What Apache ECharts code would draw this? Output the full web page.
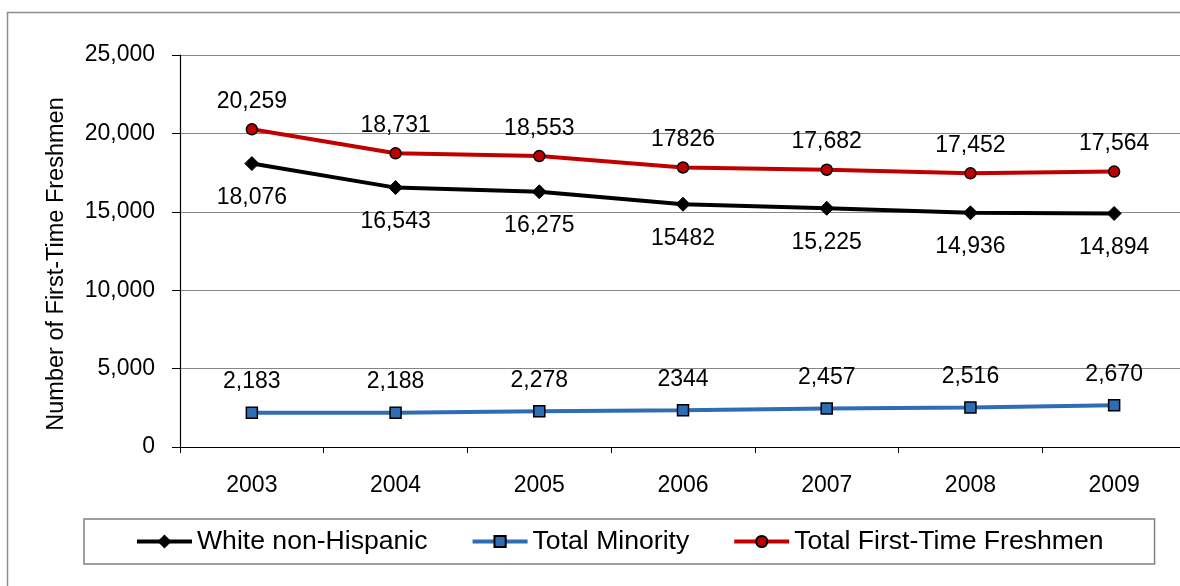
<!DOCTYPE html>
<html>
<head>
<meta charset="utf-8">
<script src="https://cdn.jsdelivr.net/npm/echarts@6/dist/echarts.min.js"></script>
<style>
html,body{margin:0;padding:0;background:#fff;overflow:hidden;width:1180px;height:586px;}
#c{width:1200px;height:586px;}
</style>
</head>
<body>
<div id="c"></div>
<script>
var years = ['2003','2004','2005','2006','2007','2008','2009'];
var whiteNonHispanic = [18076, 16543, 16275, 15482, 15225, 14936, 14894];
var totalMinority = [2183, 2188, 2278, 2344, 2457, 2516, 2670];
var totalFreshmen = [20259, 18731, 18553, 17826, 17682, 17452, 17564];
var whiteLabels = ['18,076','16,543','16,275','15482','15,225','14,936','14,894'];
var minorityLabels = ['2,183','2,188','2,278','2344','2,457','2,516','2,670'];
var freshmenLabels = ['20,259','18,731','18,553','17826','17,682','17,452','17,564'];
var yTicks = [0, 5000, 10000, 15000, 20000, 25000];
var yTitle = 'Number of First-Time Freshmen';

var FONT = '"Liberation Sans", Arial, sans-serif';
function fmt(v){ return String(v).replace(/\B(?=(\d{3})+(?!\d))/g, ','); }

var chart = echarts.init(document.getElementById('c'), null, {renderer:'canvas'});
chart.setOption({
  animation: false,
  backgroundColor: '#fff',
  textStyle: {fontFamily: FONT, color: '#000'},
  grid: {left: 180, top: 55, width: 1006, height: 392, containLabel: false},
  xAxis: {
    type: 'category',
    data: years,
    boundaryGap: true,
    axisLine: {show: true, lineStyle: {color: '#000', width: 1.2}},
    axisTick: {show: true, inside: false, length: 6, alignWithLabel: false, lineStyle: {color: '#000'}},
    axisLabel: {fontSize: 23, color: '#000', margin: 27, fontFamily: FONT},
    splitLine: {show: false}
  },
  yAxis: {
    type: 'value',
    min: yTicks[0],
    max: yTicks[yTicks.length - 1],
    interval: yTicks[1] - yTicks[0],
    axisLine: {show: true, lineStyle: {color: '#000', width: 1.2}},
    axisTick: {show: true, inside: false, length: 8, lineStyle: {color: '#000'}},
    axisLabel: {fontSize: 23, color: '#000', margin: 25, fontFamily: FONT, formatter: function(v){ return fmt(v); }},
    splitLine: {show: true, lineStyle: {color: '#868686', width: 1}}
  },
  legend: {
    left: 84,
    top: 519,
    orient: 'horizontal',
    padding: [9, 51, 9, 51],
    borderColor: '#808080',
    borderWidth: 1.5,
    itemWidth: 55,
    itemHeight: 14,
    itemGap: 43,
    textStyle: {fontSize: 26.6, color: '#000', fontFamily: FONT},
    data: [
      {name: 'White non-Hispanic', lineStyle: {width: 4}},
      {name: 'Total Minority', lineStyle: {width: 4}},
      {name: 'Total First-Time Freshmen', lineStyle: {width: 4}}
    ]
  },
  graphic: [
    {
      type: 'rect',
      silent: true,
      shape: {x: 7.5, y: 12.5, width: 1300, height: 700},
      style: {fill: 'none', stroke: '#8e8e8e', lineWidth: 1.5},
      z: -10
    },
    {
      type: 'text',
      x: 57,
      y: 264,
      rotation: Math.PI / 2,
      style: {text: yTitle, fontSize: 23.5, fontFamily: FONT, fill: '#000', textAlign: 'center', textVerticalAlign: 'middle'}
    }
  ],
  series: [
    {
      name: 'White non-Hispanic',
      type: 'line',
      data: whiteNonHispanic,
      symbol: 'diamond',
      symbolSize: 14,
      lineStyle: {color: '#000', width: 4},
      itemStyle: {color: '#000', borderColor: '#000', borderWidth: 1},
      label: {show: true, position: 'bottom', distance: 15, fontSize: 23, color: '#000', fontFamily: FONT,
        formatter: function(p){ return whiteLabels[p.dataIndex]; }},
      z: 3
    },
    {
      name: 'Total Minority',
      type: 'line',
      data: totalMinority,
      symbol: 'rect',
      symbolSize: 11,
      lineStyle: {color: '#2E6DB4', width: 4},
      itemStyle: {color: '#2E6DB4', borderColor: '#000', borderWidth: 1.5},
      label: {show: true, position: 'top', distance: 13, fontSize: 23, color: '#000', fontFamily: FONT,
        formatter: function(p){ return minorityLabels[p.dataIndex]; }},
      z: 3
    },
    {
      name: 'Total First-Time Freshmen',
      type: 'line',
      data: totalFreshmen,
      symbol: 'circle',
      symbolSize: 11,
      lineStyle: {color: '#C00000', width: 4},
      itemStyle: {color: '#C00000', borderColor: '#000', borderWidth: 1.5},
      label: {show: true, position: 'top', distance: 10, fontSize: 23, color: '#000', fontFamily: FONT,
        formatter: function(p){ return freshmenLabels[p.dataIndex]; }},
      z: 3
    }
  ]
});
</script>
</body>
</html>
